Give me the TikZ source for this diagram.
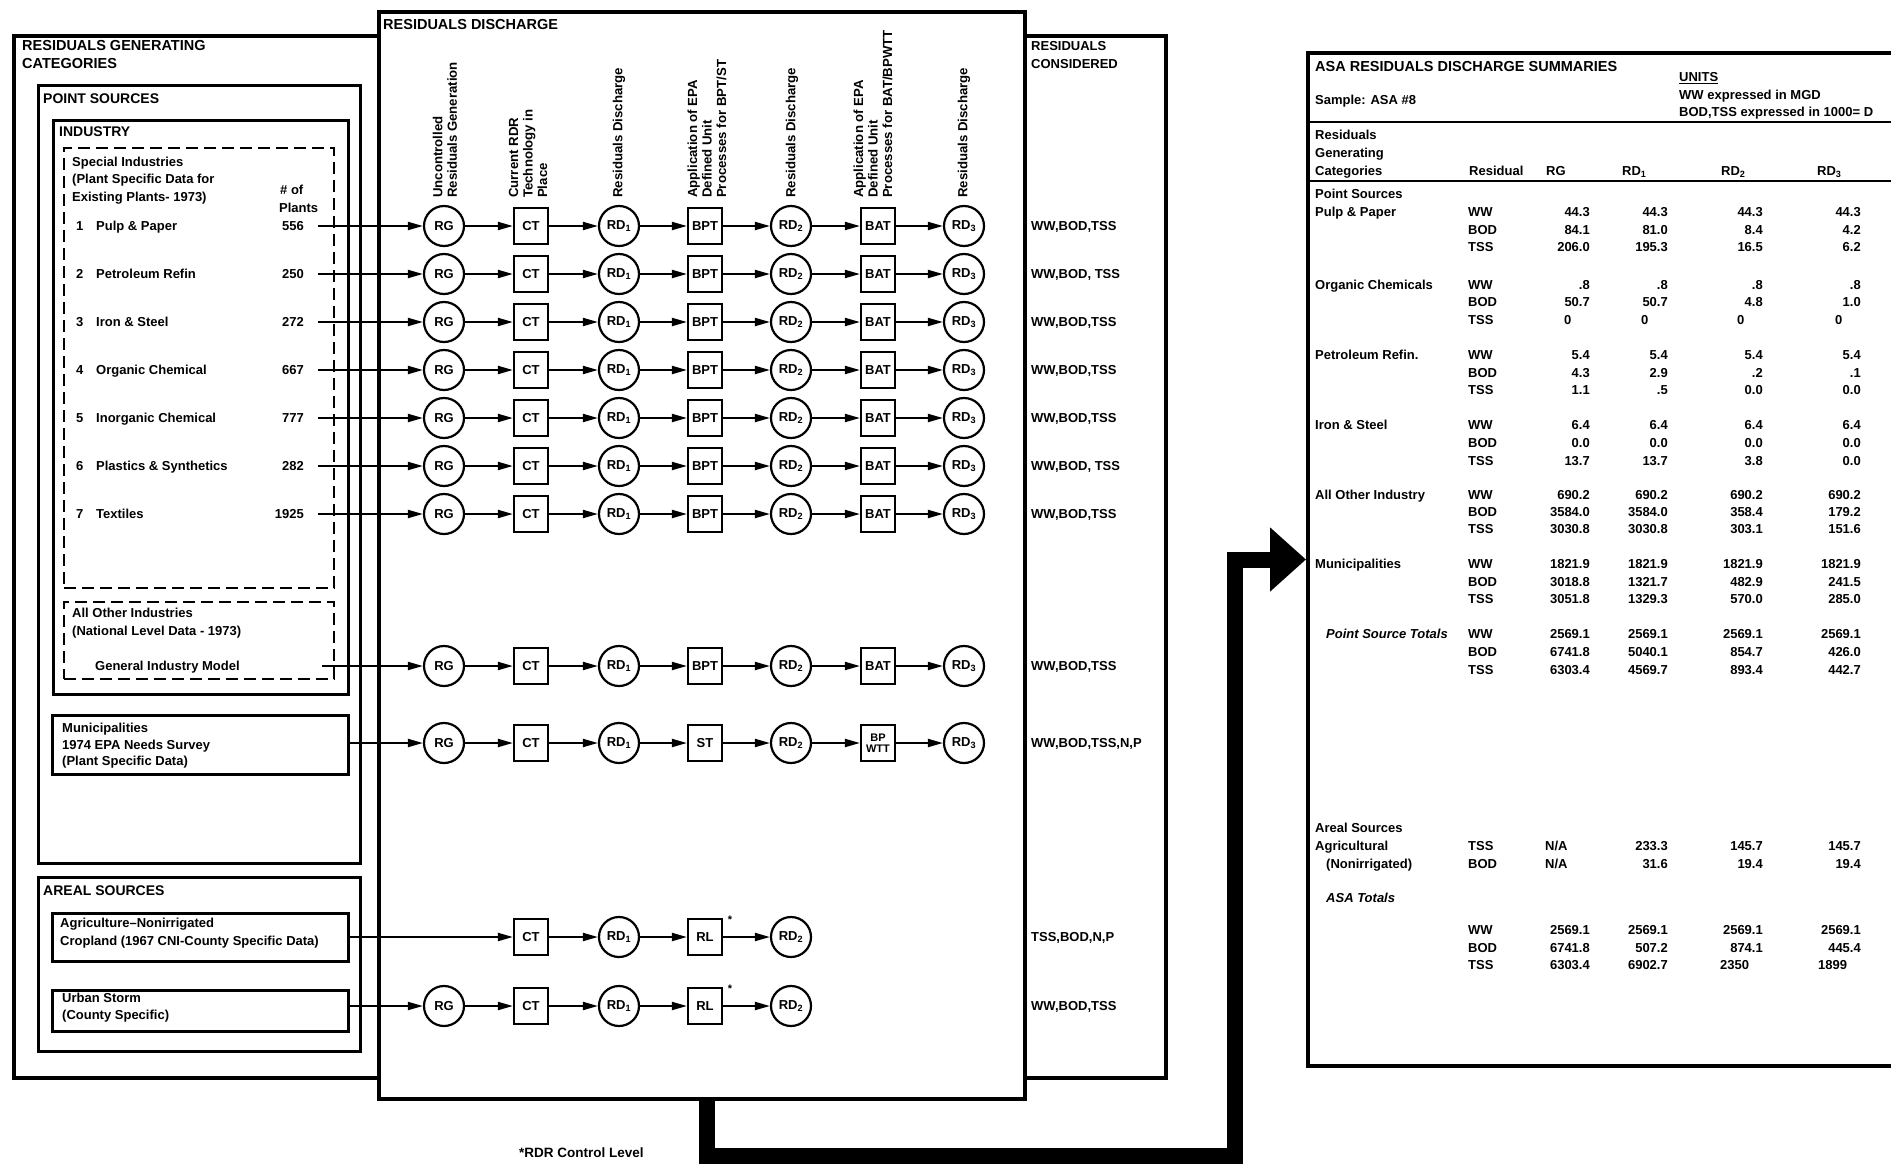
\documentclass[tikz,border=0pt]{standalone}
\usepackage{fontspec}
\setmainfont{Liberation Sans}
\usetikzlibrary{arrows.meta}
\newcommand{\fullrow}[4]{%
  \node[cir] (rg#1) at (444,#2) {RG};
  \node[sq] (ct#1) at (531,#2) {CT};
  \node[cir] (ra#1) at (619,#2) {RD\textsubscript{1}};
  \node[sq] (pb#1) at (705,#2) {#3};
  \node[cir] (rb#1) at (791,#2) {RD\textsubscript{2}};
  \node[sq] (pc#1) at (878,#2) {#4};
  \node[cir] (rc#1) at (964,#2) {RD\textsubscript{3}};
  \draw[arr] (rg#1) -- (ct#1);
  \draw[arr] (ct#1) -- (ra#1);
  \draw[arr] (ra#1) -- (pb#1);
  \draw[arr] (pb#1) -- (rb#1);
  \draw[arr] (rb#1) -- (pc#1);
  \draw[arr] (pc#1) -- (rc#1);
}
\newcommand{\datarow}[6]{%
  \node[tx] (r#1) at (1468,#1) {#2};
  \node[tx,anchor=east] (a#1) at (1590,#1) {#3};
  \node[tx,anchor=east] (b#1) at (1668,#1) {#4};
  \node[tx,anchor=east] (c#1) at (1763,#1) {#5};
  \node[tx,anchor=east] (d#1) at (1861,#1) {#6};
}
\begin{document}
\begin{tikzpicture}[x=1pt,y=-1pt,
  every node/.style={inner sep=0pt},
  tx/.style={anchor=west, text height=9pt, text depth=0pt, font=\fontsize{13}{15}\selectfont\bfseries},
  ttl/.style={anchor=west, text height=10.5pt, text depth=0pt, font=\fontsize{14.5}{17}\selectfont\bfseries},
  box/.style={draw, line width=2.5pt, anchor=north west, inner sep=0pt},
  dbox/.style={box, line width=2pt, dash pattern=on 12pt off 6pt},
  cir/.style={draw, circle, line width=2.2pt, minimum size=40pt, font=\fontsize{13}{13}\selectfont\bfseries},
  sq/.style={draw, rectangle, line width=2.2pt, minimum width=34pt, minimum height=36pt, font=\fontsize{13}{13}\selectfont\bfseries},
  arr/.style={line width=2pt, -{Triangle[length=15pt,width=8pt]}},
  hdr/.style={rotate=90, anchor=west, align=left, font=\fontsize{13.2}{14.5}\selectfont\bfseries},
  bigarrow/.style={line width=16pt, line join=miter, -{Triangle[length=36pt,width=62pt]}},
]
\useasboundingbox (0,0) rectangle (1891,1165);
\fill[white] (0,0) rectangle (1891,1165);

% ---------- left panel ----------
\node[box, line width=4pt, minimum width=1152pt, minimum height=1042pt] (outer) at (12,34) {};
\node[ttl] (lt1) at (22,45) {RESIDUALS GENERATING};
\node[ttl] (lt2) at (22,63) {CATEGORIES};
\node[box, line width=3pt, minimum width=322pt, minimum height=778pt] (ps) at (37,84) {};
\node[tx, text height=10pt, font=\fontsize{14}{16}\selectfont\bfseries] (lps) at (43,98) {POINT SOURCES};
\node[box, minimum width=295pt, minimum height=574pt] (ind) at (52,119) {};
\node[tx, text height=10pt, font=\fontsize{14}{16}\selectfont\bfseries] (lind) at (59,131) {INDUSTRY};
\node[dbox, minimum width=270pt, minimum height=440pt] (spec) at (63,147) {};
\node[tx] (sp1) at (72,162) {Special Industries};
\node[tx] (sp2) at (72,179) {(Plant Specific Data for};
\node[tx] (sp3) at (72,197) {Existing Plants- 1973)};
\node[tx] (np1) at (280,190) {\# of};
\node[tx] (np2) at (279,208) {Plants};
\node[dbox, minimum width=270pt, minimum height=77pt] (aoi) at (63,601) {};
\node[tx] (ao1) at (72,613) {All Other Industries};
\node[tx] (ao2) at (72,631) {(National Level Data - 1973)};
\node[tx] (ao3) at (95,666) {General Industry Model};
\node[box, minimum width=296pt, minimum height=59pt] (munic) at (51,714) {};
\node[tx] (mu1) at (62,728) {Municipalities};
\node[tx] (mu2) at (62,745) {1974 EPA Needs Survey};
\node[tx] (mu3) at (62,761) {(Plant Specific Data)};
\node[box, line width=3pt, minimum width=322pt, minimum height=174pt] (areal) at (37,876) {};
\node[tx, text height=10pt, font=\fontsize{14}{16}\selectfont\bfseries] (lar) at (43,890) {AREAL SOURCES};
\node[box, minimum width=296pt, minimum height=48pt] (agri) at (51,912) {};
\node[tx] (ag1) at (60,923) {Agriculture--Nonirrigated};
\node[tx] (ag2) at (60,941) {Cropland (1967 CNI-County Specific Data)};
\node[box, minimum width=296pt, minimum height=41pt] (urban) at (51,989) {};
\node[tx] (ur1) at (62,998) {Urban Storm};
\node[tx] (ur2) at (62,1015) {(County Specific)};

% ---------- right column ----------
\node[tx] (rch1) at (1031,46) {RESIDUALS};
\node[tx] (rch2) at (1031,64) {CONSIDERED};

% ---------- middle panel ----------
\node[box, line width=4pt, fill=white, minimum width=646pt, minimum height=1087pt] (mid) at (377,10) {};
\node[ttl] (mt) at (383,24) {RESIDUALS DISCHARGE};
\node[hdr] (h1) at (445,198) {Uncontrolled\\Residuals Generation};
\node[hdr] (h2) at (528,198) {Current RDR\\Technology in\\Place};
\node[hdr] (h3) at (619,198) {Residuals Discharge};
\node[hdr] (h4) at (707,198) {Application of EPA\\Defined Unit\\Processes for BPT/ST};
\node[hdr] (h5) at (792,198) {Residuals Discharge};
\node[hdr] (h6) at (873,198) {Application of EPA\\Defined Unit\\Processes for BAT/BPWTT};
\node[hdr] (h7) at (964,198) {Residuals Discharge};

\foreach \i/\nm/\cnt/\rcv in {1/Pulp \& Paper/556/{WW,BOD,TSS},2/Petroleum Refin/250/{WW,BOD, TSS},3/Iron \& Steel/272/{WW,BOD,TSS},4/Organic Chemical/667/{WW,BOD,TSS},5/Inorganic Chemical/777/{WW,BOD,TSS},6/Plastics \& Synthetics/282/{WW,BOD, TSS},7/Textiles/1925/{WW,BOD,TSS}}{
  \pgfmathtruncatemacro\yy{226+48*(\i-1)}
  \node[tx] (n\i) at (76,\yy) {\i};
  \node[tx] (nm\i) at (96,\yy) {\nm};
  \node[tx,anchor=east] (cnt\i) at (304,\yy) {\cnt};
  \coordinate (s\i) at (318,\yy);
  \fullrow{\i}{\yy}{BPT}{BAT}
  \draw[arr] (s\i) -- (rg\i);
  \node[tx] (cons\i) at (1031,\yy) {\rcv};
}
% general industry
\fullrow{8}{666}{BPT}{BAT}
\coordinate (s8) at (322,666);
\draw[arr] (s8) -- (rg8);
\node[tx] (cons8) at (1031,666) {WW,BOD,TSS};
% municipalities
\node[cir] (rg9) at (444,743) {RG};
\node[sq] (ct9) at (531,743) {CT};
\node[cir] (ra9) at (619,743) {RD\textsubscript{1}};
\node[sq] (pb9) at (705,743) {ST};
\node[cir] (rb9) at (791,743) {RD\textsubscript{2}};
\node[sq, align=center, font=\fontsize{11}{11}\selectfont\bfseries] (pc9) at (878,743) {BP\\WTT};
\node[cir] (rc9) at (964,743) {RD\textsubscript{3}};
\draw[arr] (munic.east |- rg9) -- (rg9);
\draw[arr] (rg9) -- (ct9);
\draw[arr] (ct9) -- (ra9);
\draw[arr] (ra9) -- (pb9);
\draw[arr] (pb9) -- (rb9);
\draw[arr] (rb9) -- (pc9);
\draw[arr] (pc9) -- (rc9);
\node[tx] (cons9) at (1031,743) {WW,BOD,TSS,N,P};
% agriculture
\node[sq] (ct10) at (531,937) {CT};
\node[cir] (ra10) at (619,937) {RD\textsubscript{1}};
\node[sq] (pb10) at (705,937) {RL};
\node[cir] (rb10) at (791,937) {RD\textsubscript{2}};
\draw[arr] (agri.east |- ct10) -- (ct10);
\draw[arr] (ct10) -- (ra10);
\draw[arr] (ra10) -- (pb10);
\draw[arr] (pb10) -- (rb10);
\node[font=\fontsize{11}{11}\selectfont\bfseries] (st10) at (730,920) {*};
\node[tx] (cons10) at (1031,937) {TSS,BOD,N,P};
% urban storm
\node[cir] (rg11) at (444,1006) {RG};
\node[sq] (ct11) at (531,1006) {CT};
\node[cir] (ra11) at (619,1006) {RD\textsubscript{1}};
\node[sq] (pb11) at (705,1006) {RL};
\node[cir] (rb11) at (791,1006) {RD\textsubscript{2}};
\draw[arr] (urban.east |- rg11) -- (rg11);
\draw[arr] (rg11) -- (ct11);
\draw[arr] (ct11) -- (ra11);
\draw[arr] (ra11) -- (pb11);
\draw[arr] (pb11) -- (rb11);
\node[font=\fontsize{11}{11}\selectfont\bfseries] (st11) at (730,989) {*};
\node[tx] (cons11) at (1031,1006) {WW,BOD,TSS};

\node[tx, font=\fontsize{13.5}{15}\selectfont\bfseries] (fn) at (519,1153) {*RDR Control Level};

% ---------- summary table ----------
\node[box, line width=4pt, minimum width=620pt, minimum height=1013pt] (tbl) at (1306,51) {};
\node[ttl] (tt) at (1315,66) {ASA RESIDUALS DISCHARGE SUMMARIES};
\node[tx] (un) at (1679,77) {\underline{UNITS}};
\node[tx] (u1) at (1679,95) {WW expressed in MGD};
\node[tx] (u2) at (1679,112) {BOD,TSS expressed in 1000= D};
\node[tx] (smp) at (1315,100) {Sample: ASA \#8};
\draw[line width=2pt] (1306,122) -- (1891,122);
\node[tx] (hc1) at (1315,135) {Residuals};
\node[tx] (hc2) at (1315,153) {Generating};
\node[tx] (hc3) at (1315,171) {Categories};
\node[tx] (hres) at (1469,171) {Residual};
\node[tx] (hrg) at (1546,171) {RG};
\node[tx] (hr1) at (1622,171) {RD\textsubscript{1}};
\node[tx] (hr2) at (1721,171) {RD\textsubscript{2}};
\node[tx] (hr3) at (1817,171) {RD\textsubscript{3}};
\draw[line width=2pt] (1306,181) -- (1891,181);
\node[tx] (cps) at (1315,194) {Point Sources};
\node[tx] (cpp) at (1315,212) {Pulp \& Paper};
\datarow{212}{WW}{44.3}{44.3}{44.3}{44.3}
\datarow{230}{BOD}{84.1}{81.0}{8.4}{4.2}
\datarow{247}{TSS}{206.0}{195.3}{16.5}{6.2}
\node[tx] (coc) at (1315,285) {Organic Chemicals};
\datarow{285}{WW}{.8}{.8}{.8}{.8}
\datarow{302}{BOD}{50.7}{50.7}{4.8}{1.0}
\node[tx] (r320) at (1468,320) {TSS};
\node[tx] (a320) at (1564,320) {0};
\node[tx] (b320) at (1641,320) {0};
\node[tx] (c320) at (1737,320) {0};
\node[tx] (d320) at (1835,320) {0};
\node[tx] (cpr) at (1315,355) {Petroleum Refin.};
\datarow{355}{WW}{5.4}{5.4}{5.4}{5.4}
\datarow{373}{BOD}{4.3}{2.9}{.2}{.1}
\datarow{390}{TSS}{1.1}{.5}{0.0}{0.0}
\node[tx] (cis) at (1315,425) {Iron \& Steel};
\datarow{425}{WW}{6.4}{6.4}{6.4}{6.4}
\datarow{443}{BOD}{0.0}{0.0}{0.0}{0.0}
\datarow{461}{TSS}{13.7}{13.7}{3.8}{0.0}
\node[tx] (cao) at (1315,495) {All Other Industry};
\datarow{495}{WW}{690.2}{690.2}{690.2}{690.2}
\datarow{512}{BOD}{3584.0}{3584.0}{358.4}{179.2}
\datarow{529}{TSS}{3030.8}{3030.8}{303.1}{151.6}
\node[tx] (cmu) at (1315,564) {Municipalities};
\datarow{564}{WW}{1821.9}{1821.9}{1821.9}{1821.9}
\datarow{582}{BOD}{3018.8}{1321.7}{482.9}{241.5}
\datarow{599}{TSS}{3051.8}{1329.3}{570.0}{285.0}
\node[tx, font=\fontsize{13}{15}\selectfont\bfseries\itshape] (cpt) at (1326,634) {Point Source Totals};
\datarow{634}{WW}{2569.1}{2569.1}{2569.1}{2569.1}
\datarow{652}{BOD}{6741.8}{5040.1}{854.7}{426.0}
\datarow{670}{TSS}{6303.4}{4569.7}{893.4}{442.7}
\node[tx] (cas) at (1315,828) {Areal Sources};
\node[tx] (cag) at (1315,846) {Agricultural};
\node[tx] (cni) at (1326,864) {(Nonirrigated)};
\node[tx] (r846) at (1468,846) {TSS};
\node[tx] (a846) at (1545,846) {N/A};
\node[tx,anchor=east] (b846) at (1668,846) {233.3};
\node[tx,anchor=east] (c846) at (1763,846) {145.7};
\node[tx,anchor=east] (d846) at (1861,846) {145.7};
\node[tx] (r864) at (1468,864) {BOD};
\node[tx] (a864) at (1545,864) {N/A};
\node[tx,anchor=east] (b864) at (1668,864) {31.6};
\node[tx,anchor=east] (c864) at (1763,864) {19.4};
\node[tx,anchor=east] (d864) at (1861,864) {19.4};
\node[tx, font=\fontsize{13}{15}\selectfont\bfseries\itshape] (cat) at (1326,898) {ASA Totals};
\datarow{930}{WW}{2569.1}{2569.1}{2569.1}{2569.1}
\datarow{948}{BOD}{6741.8}{507.2}{874.1}{445.4}
\node[tx] (r965) at (1468,965) {TSS};
\node[tx,anchor=east] (a965) at (1590,965) {6303.4};
\node[tx,anchor=east] (b965) at (1668,965) {6902.7};
\node[tx] (c965) at (1720,965) {2350};
\node[tx] (d965) at (1818,965) {1899};

% ---------- big connector ----------
\draw[bigarrow] ([xshift=5pt]mid.south) |- (1235,1156) |- (tbl.west);
\end{tikzpicture}
\end{document}
